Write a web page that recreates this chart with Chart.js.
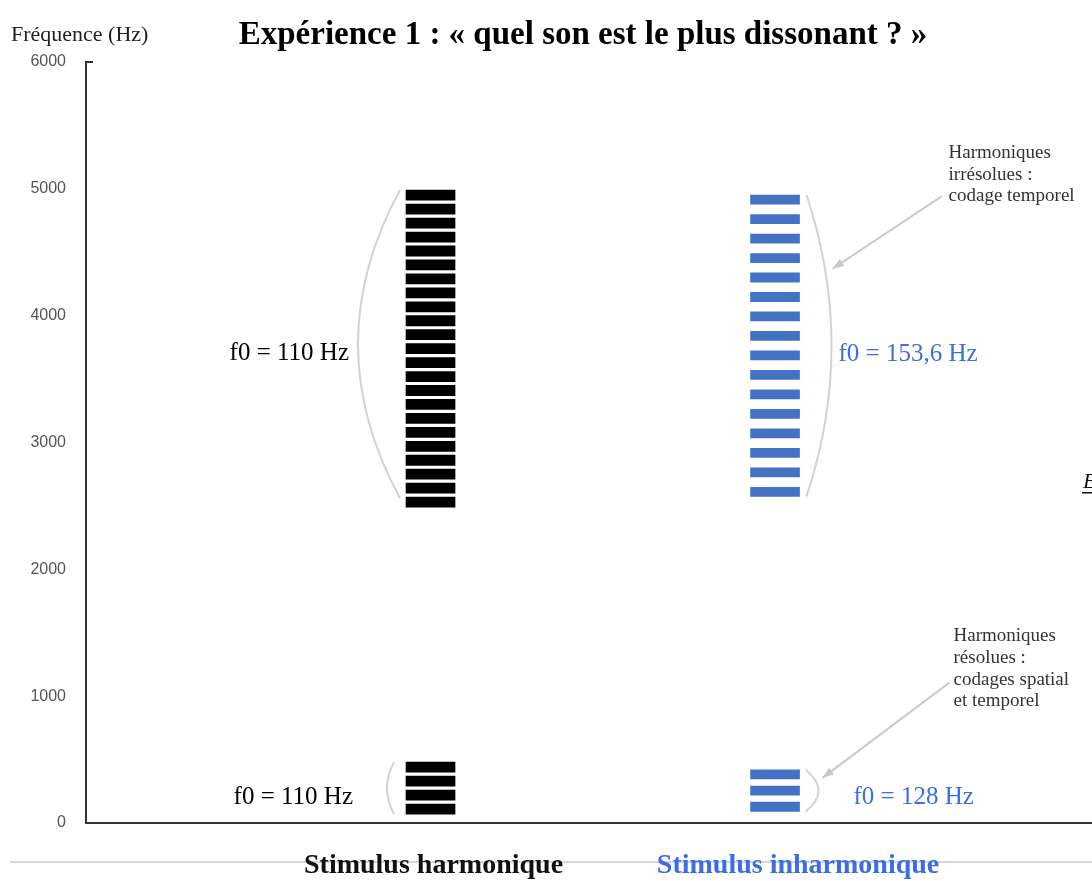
<!DOCTYPE html>
<html>
<head>
<meta charset="utf-8">
<script src="https://cdn.jsdelivr.net/npm/chart.js@4/dist/chart.umd.min.js"></script>
<style>
  body { margin: 0; background: #fff; }
  canvas { display: block; }
</style>
</head>
<body>
<canvas id="freqChart" width="1092" height="881"></canvas>
<script>
// stimulus labels on the x axis
const stimuli = ['Stimulus harmonique', 'Stimulus inharmonique'];

// harmonic stimulus, f0 = 110 Hz (Hz)
const harmonicHigh = [2530, 2640, 2750, 2860, 2970, 3080, 3190, 3300, 3410, 3520, 3630, 3740,
    3850, 3960, 4070, 4180, 4290, 4400, 4510, 4620, 4730, 4840, 4950];
const harmonicLow = [110, 220, 330, 440];

// inharmonic stimulus, f0 = 153,6 Hz high / 128 Hz low (Hz)
const inharmonicHigh = [2611.2, 2764.8, 2918.4, 3072, 3225.6, 3379.2, 3532.8, 3686.4, 3840,
    3993.6, 4147.2, 4300.8, 4454.4, 4608, 4761.6, 4915.2];
const inharmonicLow = [128, 256, 384];

const yMin = 0, yMax = 6000, yStep = 1000;

const BLUE_BAR = '#4472c4';
const BLUE_TXT = '#3b6ee6';
const SERIF = '"Liberation Serif", "DejaVu Serif", serif';

function toBars(freqs, xPos, half) {
    return freqs.map(f => ({ x: xPos, y: [f - half, f + half] }));
}

function text(c, str, x, y, align) {
    c.textAlign = align;
    c.fillText(str, x, y);
}

const overlay = {
    id: 'overlay',
    beforeDraw(chart) {
        const c = chart.ctx;
        c.save();
        c.strokeStyle = '#d6d6d6';
        c.lineWidth = 2;
        c.beginPath();
        c.moveTo(10, 862);
        c.lineTo(chart.width, 862);
        c.stroke();
        c.restore();
    },
    afterDraw(chart) {
        const c = chart.ctx;
        const xs = chart.scales.x, ys = chart.scales.y;
        const y = v => ys.getPixelForValue(v);
        const blackLeft = xs.getPixelForValue(1) - 24.5;
        const blueRight = xs.getPixelForValue(2) + 24.5;
        c.save();
        c.textBaseline = 'middle';

        // titles
        c.fillStyle = '#000';
        c.font = 'bold 33px ' + SERIF;
        text(c, 'Expérience 1 : « quel son est le plus dissonant ? »', 583, 35, 'center');
        c.font = '22px ' + SERIF;
        c.fillStyle = '#222';
        text(c, 'Fréquence (Hz)', 11, 35, 'left');

        // stimulus names under the axis
        c.font = 'bold 28px ' + SERIF;
        c.fillStyle = '#111';
        text(c, stimuli[0], xs.getPixelForValue(1) + 3, 866, 'center');
        c.fillStyle = BLUE_TXT;
        text(c, stimuli[1], xs.getPixelForValue(2) + 23, 866, 'center');

        // small tick at the top of the y axis
        c.strokeStyle = '#333';
        c.lineWidth = 2;
        c.beginPath();
        c.moveTo(ys.right - 1, ys.top);
        c.lineTo(ys.right + 7, ys.top);
        c.stroke();

        // brackets
        c.strokeStyle = '#d2d2d2';
        c.lineWidth = 2;
        const arc = (x, top, bot, bulge) => {
            c.beginPath();
            c.moveTo(x, top);
            c.quadraticCurveTo(x + 2 * bulge, (top + bot) / 2, x, bot);
            c.stroke();
        };
        arc(blackLeft - 6, y(4990), y(2560), -42);
        arc(blackLeft - 12, y(480), y(70), -7);
        arc(blueRight + 7, y(4951), y(2575), 25);
        arc(blueRight + 6, y(420), y(90), 13);

        // arrows
        const arrow = (x0, y0, x1, y1) => {
            c.strokeStyle = '#c8c8c8';
            c.fillStyle = '#c8c8c8';
            c.lineWidth = 2;
            c.beginPath();
            c.moveTo(x0, y0);
            c.lineTo(x1, y1);
            c.stroke();
            const a = Math.atan2(y1 - y0, x1 - x0);
            c.beginPath();
            c.moveTo(x1, y1);
            c.lineTo(x1 - 12 * Math.cos(a - 0.35), y1 - 12 * Math.sin(a - 0.35));
            c.lineTo(x1 - 12 * Math.cos(a + 0.35), y1 - 12 * Math.sin(a + 0.35));
            c.closePath();
            c.fill();
        };
        arrow(blueRight + 142, y(4940), blueRight + 33, y(4370));
        arrow(blueRight + 150, y(1108), blueRight + 23, y(356));

        // f0 labels
        c.font = '25px ' + SERIF;
        c.fillStyle = '#000';
        text(c, 'f0 = 110 Hz', blackLeft - 57, y(3705), 'right');
        text(c, 'f0 = 110 Hz', blackLeft - 53, y(200), 'right');
        c.fillStyle = BLUE_TXT;
        text(c, 'f0 = 153,6 Hz', blueRight + 39, y(3697), 'left');
        text(c, 'f0 = 128 Hz', blueRight + 54, y(200), 'left');

        // side notes
        c.font = '19px ' + SERIF;
        c.fillStyle = '#333';
        const note1 = ['Harmoniques', 'irrésolues :', 'codage temporel'];
        note1.forEach((t, i) => text(c, t, blueRight + 149, y(5280) + i * 21.5, 'left'));
        const note2 = ['Harmoniques', 'résolues :', 'codages spatial', 'et temporel'];
        note2.forEach((t, i) => text(c, t, blueRight + 154, y(1472) + i * 21.7, 'left'));

        // cropped figure reference at the right edge
        c.font = 'italic 22px ' + SERIF;
        c.fillStyle = '#111';
        text(c, 'E', 1083, 482, 'left');
        c.fillRect(1082, 492, 12, 1.5);
        c.restore();
    }
};

const ctx = document.getElementById('freqChart').getContext('2d');
const freqChart = new Chart(ctx, {
    type: 'bar',
    data: {
        datasets: [
            {
                label: stimuli[0],
                data: toBars(harmonicHigh.concat(harmonicLow), 1, 40),
                backgroundColor: '#000',
                barThickness: 49,
                grouped: false
            },
            {
                label: stimuli[1],
                data: toBars(inharmonicHigh.concat(inharmonicLow), 2, 36),
                backgroundColor: BLUE_BAR,
                barThickness: 49,
                grouped: false
            }
        ]
    },
    options: {
        responsive: false,
        animation: false,
        layout: { padding: { top: 62, right: 0, bottom: 0, left: 0 } },
        plugins: {
            legend: { display: false },
            tooltip: { enabled: false }
        },
        scales: {
            x: {
                type: 'linear',
                min: 0,
                max: 2.92,
                offset: false,
                bounds: 'data',
                grid: { display: false, drawTicks: false },
                border: { color: '#333', width: 2 },
                ticks: { display: false },
                afterFit: s => { s.height = 58; }
            },
            y: {
                min: yMin,
                max: yMax,
                grid: { display: false, drawTicks: false },
                border: { color: '#333', width: 2 },
                afterFit: s => { s.width = 86; },
                ticks: {
                    stepSize: yStep,
                    padding: 20,
                    color: '#555',
                    font: { family: '"Liberation Sans", Arial, sans-serif', size: 16 },
                    callback: v => String(v)
                }
            }
        }
    },
    plugins: [overlay]
});
</script>
</body>
</html>
